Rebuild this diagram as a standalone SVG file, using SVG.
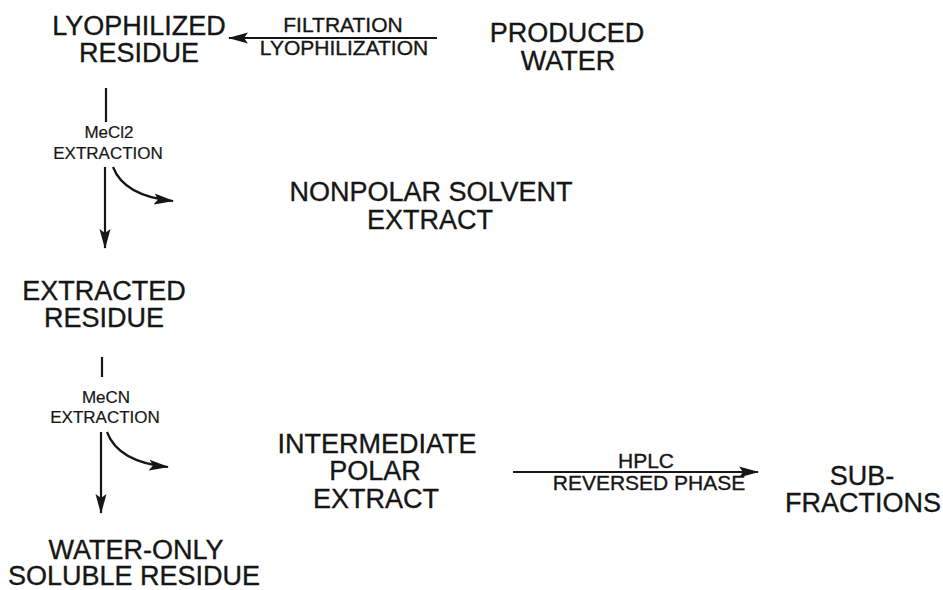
<svg xmlns="http://www.w3.org/2000/svg" width="943" height="590" viewBox="0 0 943 590">
<style>
text{font-family:"Liberation Sans",Arial,sans-serif;fill:#161616;stroke:#161616;stroke-width:0.35;text-anchor:middle}
.n{font-size:27px}
.l{font-size:21px}
.s{font-size:17px;stroke-width:0.2}
.c{fill:none;stroke:#161616;stroke-width:2.2}
</style>
<defs>
<marker id="ah" markerUnits="userSpaceOnUse" markerWidth="20" markerHeight="12" refX="19" refY="6" orient="auto">
<path d="M0,0.5 L20,6 L0,11.5 L4,6 z" fill="#161616"/>
</marker>
</defs>
<rect width="943" height="590" fill="#fff"/>
<g id="connectors">
<line class="c" x1="437" y1="38" x2="229" y2="38" stroke-width="2.8" marker-end="url(#ah)"/>
<line class="c" x1="106" y1="88" x2="106" y2="122"/>
<line class="c" x1="105" y1="167" x2="105" y2="248" marker-end="url(#ah)"/>
<path class="c" d="M113,167 Q124,196 173,201" marker-end="url(#ah)"/>
<line class="c" x1="102" y1="357" x2="102" y2="377"/>
<line class="c" x1="101" y1="432" x2="101" y2="513" marker-end="url(#ah)"/>
<path class="c" d="M107,432 Q118,462 168,467" marker-end="url(#ah)"/>
<line class="c" x1="513" y1="472" x2="758" y2="472" stroke-width="3" marker-end="url(#ah)"/>
<text class="l" x="343" y="32">FILTRATION</text>
<text class="l" x="344" y="55">LYOPHILIZATION</text>
<text class="s" x="109" y="138">MeCl2</text>
<text class="s" x="108" y="159">EXTRACTION</text>
<text class="s" x="106" y="403">MeCN</text>
<text class="s" x="105" y="423">EXTRACTION</text>
<text class="l" x="646" y="468" font-size="20">HPLC</text>
<text class="l" x="649" y="490" font-size="20">REVERSED PHASE</text>
</g>
<g id="produced-water"><text class="n" x="567" y="42">PRODUCED</text><text class="n" x="568" y="70">WATER</text></g>
<g id="lyophilized-residue"><text class="n" x="139" y="35">LYOPHILIZED</text><text class="n" x="139" y="62">RESIDUE</text></g>
<g id="nonpolar-extract"><text class="n" x="431" y="201">NONPOLAR SOLVENT</text><text class="n" x="430" y="229">EXTRACT</text></g>
<g id="extracted-residue"><text class="n" x="104" y="300">EXTRACTED</text><text class="n" x="104" y="327">RESIDUE</text></g>
<g id="intermediate-polar-extract"><text class="n" x="377" y="453">INTERMEDIATE</text><text class="n" x="375" y="480">POLAR</text><text class="n" x="376" y="508">EXTRACT</text></g>
<g id="sub-fractions"><text class="n" x="862" y="485">SUB-</text><text class="n" x="863" y="512">FRACTIONS</text></g>
<g id="water-only-residue"><text class="n" x="136" y="559">WATER-ONLY</text><text class="n" x="134" y="585">SOLUBLE RESIDUE</text></g>
</svg>
